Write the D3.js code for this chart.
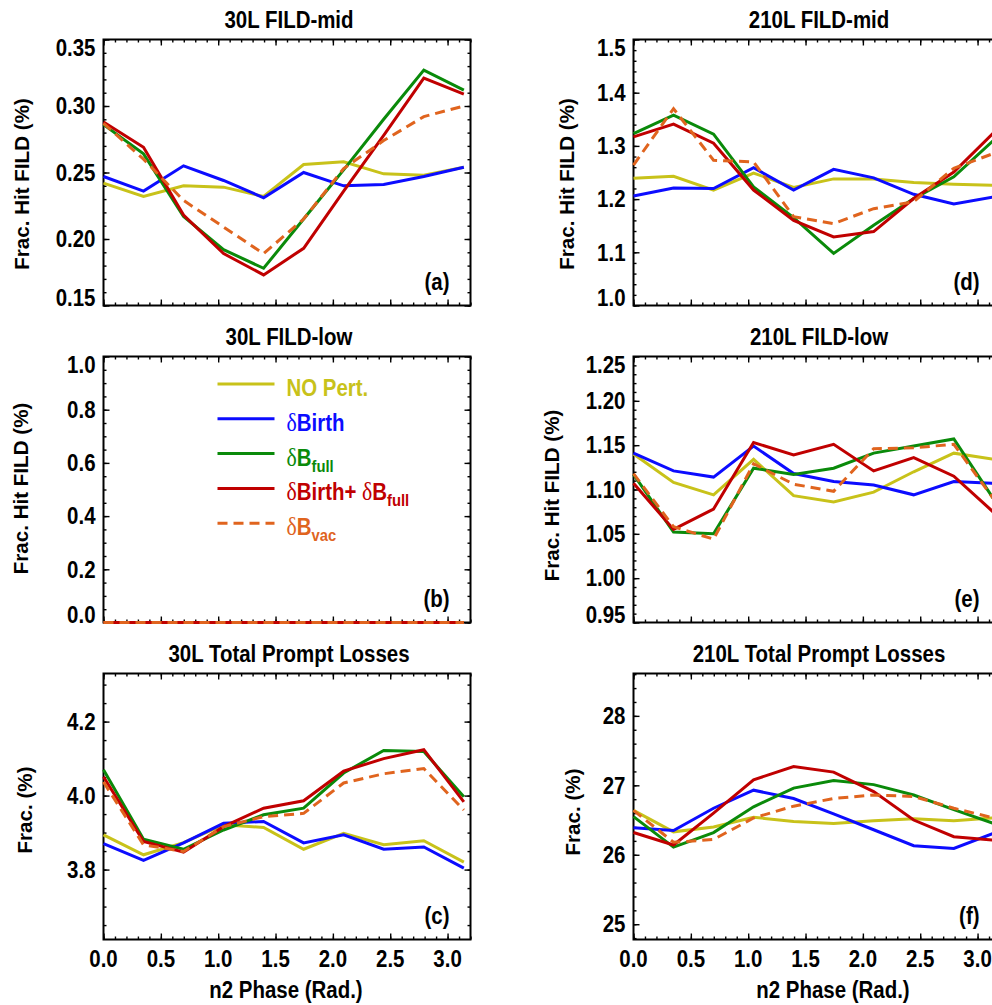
<!DOCTYPE html>
<html>
<head>
<meta charset="utf-8">
<script src="https://cdn.jsdelivr.net/npm/d3@7"></script>
<style>
  body { margin: 0; background: #fff; overflow: hidden; }
  svg { display: block; }
  text { font-family: "Liberation Sans", Arial, sans-serif; font-weight: bold; fill: #000; }
</style>
</head>
<body>
<svg id="chart"></svg>
<script>
// n2 phase scan of prompt losses, 30L and 210L, six panels (a)-(f)

var phase = [0.000, 0.349, 0.698, 1.047, 1.396, 1.745, 2.094, 2.443, 2.793, 3.142];
var xTicks = [0.0, 0.5, 1.0, 1.5, 2.0, 2.5, 3.0];

var seriesNames = ["NO Pert.", "δBirth", "δBfull", "δBirth+ δBfull", "δBvac"];

// (a) 30L FILD-mid
var midNoPert30 = [0.242, 0.232, 0.240, 0.239, 0.232, 0.256, 0.258, 0.249, 0.248, 0.254];
var midBirth30  = [0.247, 0.236, 0.255, 0.244, 0.231, 0.250, 0.240, 0.241, 0.247, 0.254];
var midBfull30  = [0.286, 0.264, 0.217, 0.192, 0.178, 0.215, 0.252, 0.290, 0.327, 0.312];
var midBoth30   = [0.288, 0.269, 0.218, 0.189, 0.173, 0.193, 0.236, 0.278, 0.321, 0.309];
var midBvac30   = [0.287, 0.260, 0.229, 0.209, 0.189, 0.215, 0.253, 0.274, 0.292, 0.300];

// (b) 30L FILD-low : nothing reaches it
var lowNoPert30 = [0, 0, 0, 0, 0, 0, 0, 0, 0, 0];
var lowBirth30  = [0, 0, 0, 0, 0, 0, 0, 0, 0, 0];
var lowBfull30  = [0, 0, 0, 0, 0, 0, 0, 0, 0, 0];
var lowBoth30   = [0, 0, 0, 0, 0, 0, 0, 0, 0, 0];
var lowBvac30   = [0, 0, 0, 0, 0, 0, 0, 0, 0, 0];

// (c) 30L Total Prompt Losses
var totNoPert30 = [3.894, 3.840, 3.873, 3.921, 3.914, 3.855, 3.898, 3.867, 3.878, 3.820];
var totBirth30  = [3.870, 3.825, 3.872, 3.925, 3.930, 3.872, 3.894, 3.855, 3.861, 3.804];
var totBfull30  = [4.070, 3.882, 3.855, 3.907, 3.948, 3.966, 4.061, 4.122, 4.119, 3.997];
var totBoth30   = [4.051, 3.876, 3.847, 3.916, 3.966, 3.986, 4.066, 4.100, 4.124, 3.983];
var totBvac30   = [4.037, 3.867, 3.849, 3.916, 3.943, 3.952, 4.034, 4.059, 4.073, 3.961];

// (d) 210L FILD-mid
var midNoPert210 = [1.239, 1.243, 1.217, 1.249, 1.222, 1.238, 1.238, 1.231, 1.228, 1.226];
var midBirth210  = [1.206, 1.221, 1.220, 1.259, 1.217, 1.256, 1.240, 1.209, 1.191, 1.204];
var midBfull210  = [1.323, 1.358, 1.322, 1.223, 1.165, 1.098, 1.151, 1.201, 1.242, 1.311];
var midBoth210   = [1.317, 1.341, 1.305, 1.217, 1.160, 1.129, 1.139, 1.201, 1.251, 1.325];
var midBvac210   = [1.264, 1.370, 1.273, 1.270, 1.167, 1.154, 1.182, 1.195, 1.258, 1.286];

// (e) 210L FILD-low
var lowNoPert210 = [1.140, 1.108, 1.094, 1.134, 1.093, 1.086, 1.097, 1.120, 1.141, 1.134];
var lowBirth210  = [1.141, 1.121, 1.114, 1.149, 1.118, 1.109, 1.105, 1.094, 1.109, 1.107];
var lowBfull210  = [1.117, 1.052, 1.050, 1.124, 1.117, 1.124, 1.141, 1.149, 1.157, 1.089];
var lowBoth210   = [1.107, 1.055, 1.078, 1.153, 1.139, 1.151, 1.121, 1.136, 1.115, 1.074];
var lowBvac210   = [1.118, 1.058, 1.044, 1.129, 1.106, 1.098, 1.146, 1.147, 1.151, 1.089];

// (f) 210L Total Prompt Losses
var totNoPert210 = [26.64, 26.33, 26.40, 26.54, 26.48, 26.45, 26.49, 26.52, 26.49, 26.53];
var totBirth210  = [26.39, 26.35, 26.67, 26.93, 26.81, 26.59, 26.36, 26.13, 26.09, 26.31];
var totBfull210  = [26.55, 26.11, 26.32, 26.69, 26.96, 27.07, 27.01, 26.86, 26.65, 26.45];
var totBoth210   = [26.32, 26.14, 26.60, 27.08, 27.27, 27.19, 26.91, 26.50, 26.26, 26.21];
var totBvac210   = [26.64, 26.18, 26.22, 26.53, 26.70, 26.81, 26.86, 26.84, 26.67, 26.53];

// y tick values
var yTicksA = [0.15, 0.20, 0.25, 0.30, 0.35];
var yTicksB = [0.0, 0.2, 0.4, 0.6, 0.8, 1.0];
var yTicksC = [3.8, 4.0, 4.2];
var yTicksD = [1.0, 1.1, 1.2, 1.3, 1.4, 1.5];
var yTicksE = [0.95, 1.00, 1.05, 1.10, 1.15, 1.20, 1.25];
var yTicksF = [25, 26, 27, 28];

// styles
var colors = ["#c8c21a", "#0c0cff", "#0a8a0a", "#c00000", "#e0641e"];
var dashes = [null, null, null, null, "10,6"];
var fontSize = 23.5, squeeze = 0.87;   // the original lettering is tall and narrow

// layout
var colX = [103.5, 633.5];
var rowY = [39.5, 356.5, 673.5];
var W = 367, H = 266;
var xTitleShift = [-1, 16];

var panels = [
  {tag: "(a)", col: 0, row: 0, title: "30L FILD-mid", ytitle: "Frac. Hit FILD (%)",
   data: [midNoPert30, midBirth30, midBfull30, midBoth30, midBvac30],
   yDomain: [0.15, 0.35], yTicks: yTicksA, minor: 0.01, fmt: ".2f", yOff: 75, yShift: 11.5},
  {tag: "(b)", col: 0, row: 1, title: "30L FILD-low", ytitle: "Frac. Hit FILD (%)",
   data: [lowNoPert30, lowBirth30, lowBfull30, lowBoth30, lowBvac30],
   yDomain: [0, 1], yTicks: yTicksB, minor: 0.05, fmt: ".1f", yOff: 76, yShift: -1, legend: true},
  {tag: "(c)", col: 0, row: 2, title: "30L Total Prompt Losses", ytitle: "Frac. (%)",
   data: [totNoPert30, totBirth30, totBfull30, totBoth30, totBvac30],
   yDomain: [3.611, 4.33], yTicks: yTicksC, minor: 0.05, fmt: ".1f", yOff: 72, yShift: 3.5},
  {tag: "(d)", col: 1, row: 0, title: "210L FILD-mid", ytitle: "Frac. Hit FILD (%)",
   data: [midNoPert210, midBirth210, midBfull210, midBoth210, midBvac210],
   yDomain: [1.0, 1.5], yTicks: yTicksD, minor: 0.02, fmt: ".1f", yOff: 60, yShift: 11.5},
  {tag: "(e)", col: 1, row: 1, title: "210L FILD-low", ytitle: "Frac. Hit FILD (%)",
   data: [lowNoPert210, lowBirth210, lowBfull210, lowBoth210, lowBvac210],
   yDomain: [0.95, 1.25], yTicks: yTicksE, minor: 0.01, fmt: ".2f", yOff: 75, yShift: 6},
  {tag: "(f)", col: 1, row: 2, title: "210L Total Prompt Losses", ytitle: "Frac. (%)",
   data: [totNoPert210, totBirth210, totBfull210, totBoth210, totBvac210],
   yDomain: [24.78, 28.61], yTicks: yTicksF, minor: 0.2, fmt: "d", yOff: 54, yShift: 5.5}
];

// legend pieces: g = greek (serif), b = bold, s = subscript
var legendParts = [
  [["NO Pert.", "b"]],
  [["δ", "g"], ["Birth", "b"]],
  [["δ", "g"], ["B", "b"], ["full", "s"]],
  [["δ", "g"], ["Birth+ ", "b"], ["δ", "g"], ["B", "b"], ["full", "s"]],
  [["δ", "g"], ["B", "b"], ["vac", "s"]]
];

var svg = d3.select("#chart")
    .attr("width", 1010)
    .attr("height", 1005);

var x = d3.scaleLinear().domain([0, 3.2]).range([0, W]);
var xMinor = d3.range(0, 33).map(k => k / 10);

function stepValues(domain, step) {
    var k0 = Math.ceil(domain[0] / step - 1e-6);
    var k1 = Math.floor(domain[1] / step + 1e-6);
    return d3.range(k0, k1 + 1).map(k => +(k * step).toFixed(6));
}

// horizontal text, narrowed
function label(g, px, py, str, anchor) {
    return g.append("text")
        .attr("transform", `translate(${px}, ${py}) scale(${squeeze}, 1)`)
        .attr("text-anchor", anchor)
        .attr("font-size", fontSize)
        .text(str);
}

panels.forEach(function(p) {
    var left = colX[p.col], top = rowY[p.row];
    var g = svg.append("g").attr("transform", `translate(${left}, ${top})`);

    var y = d3.scaleLinear().domain(p.yDomain).range([H, 0]);
    var yMinor = stepValues(p.yDomain, p.minor);

    // inward ticks on all four sides
    function tickSet(axis, vals, size, shift) {
        g.append("g")
            .attr("transform", shift)
            .call(axis.tickValues(vals).tickSize(-size).tickSizeOuter(0).tickFormat(""))
            .call(s => s.select(".domain").remove())
            .selectAll("line")
            .attr("stroke", "#000")
            .attr("stroke-width", 1.4);
    }
    [[xMinor, 3], [xTicks, 6]].forEach(function(t) {
        tickSet(d3.axisBottom(x), t[0], t[1], `translate(0, ${H})`);
        tickSet(d3.axisTop(x), t[0], t[1], "translate(0, 0)");
    });
    [[yMinor, 3], [p.yTicks, 6]].forEach(function(t) {
        tickSet(d3.axisLeft(y), t[0], t[1], "translate(0, 0)");
        tickSet(d3.axisRight(y), t[0], t[1], `translate(${W}, 0)`);
    });

    // frame
    g.append("rect")
        .attr("width", W)
        .attr("height", H)
        .attr("fill", "none")
        .attr("stroke", "#000")
        .attr("stroke-width", 2);

    // y tick labels, end labels kept inside the axis span
    var fmt = d3.format(p.fmt);
    p.yTicks.forEach(function(v) {
        var yy = Math.max(16.6, Math.min(H, y(v) + 8.2));
        label(g, -8, yy, fmt(v), "end");
    });

    // x tick labels and title only on the bottom row
    if (p.row === 2) {
        xTicks.forEach(function(v) {
            label(g, x(v), H + 27.5, d3.format(".1f")(v), "middle");
        });
        label(g, W / 2 + xTitleShift[p.col], H + 58.5, "n2 Phase (Rad.)", "middle");
    }

    // panel title
    label(g, W / 2 + 2, -12, p.title, "middle");

    // y title
    g.append("text")
        .attr("transform", `translate(${-p.yOff}, ${H / 2 + p.yShift}) rotate(-90)`)
        .attr("text-anchor", "middle")
        .attr("font-size", 20.6)
        .text(p.ytitle);

    // panel tag
    label(g, W - 21, H - 16, p.tag, "end");

    // series
    var line = d3.line()
        .x((d, i) => x(phase[i]))
        .y(d => y(d));

    p.data.forEach(function(vals, i) {
        g.append("path")
            .datum(vals)
            .attr("d", line)
            .attr("fill", "none")
            .attr("stroke", colors[i])
            .attr("stroke-width", 3)
            .attr("stroke-dasharray", dashes[i]);
    });

    // legend
    if (p.legend) {
        seriesNames.forEach(function(name, i) {
            var ly = 27.5 + i * 34.8;
            g.append("line")
                .attr("x1", 114).attr("x2", 171)
                .attr("y1", ly).attr("y2", ly)
                .attr("stroke", colors[i])
                .attr("stroke-width", 3)
                .attr("stroke-dasharray", dashes[i]);

            var t = label(g, 183, ly + 12, "", "start")
                .style("white-space", "pre")
                .style("fill", colors[i]);
            legendParts[i].forEach(function(part) {
                var s = t.append("tspan").text(part[0]);
                if (part[1] === "g") {
                    s.style("font-family", "'Liberation Serif', 'DejaVu Serif', serif")
                        .style("font-weight", "normal")
                        .attr("font-size", 25);
                } else if (part[1] === "s") {
                    s.attr("dy", 6).attr("font-size", 17);
                }
            });
        });
    }
});
</script>
</body>
</html>
